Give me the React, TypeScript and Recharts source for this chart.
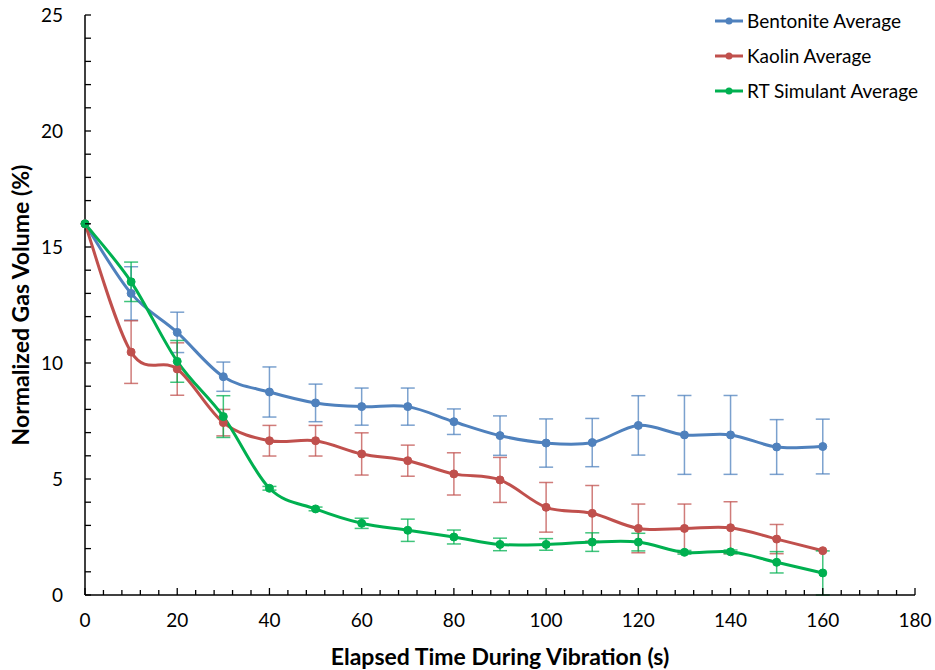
import React from 'react';
import { LineChart, Line, XAxis, YAxis, ErrorBar, Label } from 'recharts';

const times = [0, 10, 20, 30, 40, 50, 60, 70, 80, 90, 100, 110, 120, 130, 140, 150, 160];

const bentonite = [16, 13.0, 11.32, 9.41, 8.75, 8.28, 8.12, 8.12, 7.47, 6.87, 6.55, 6.57, 7.31, 6.9, 6.9, 6.38, 6.4];
const bentoniteErr = [0, 1.15, 0.87, 0.63, 1.08, 0.81, 0.8, 0.8, 0.55, 0.85, 1.04, 1.04, 1.28, 1.7, 1.7, 1.18, 1.18];

const kaolin = [16, 10.47, 9.74, 7.43, 6.65, 6.65, 6.08, 5.79, 5.22, 4.96, 3.78, 3.52, 2.87, 2.87, 2.9, 2.41, 1.91];
const kaolinErr = [0, 1.35, 1.13, 0.57, 0.66, 0.66, 0.91, 0.67, 0.91, 0.97, 1.07, 1.2, 1.05, 1.05, 1.12, 0.63, 0];

const simulant = [16, 13.5, 10.07, 7.69, 4.6, 3.71, 3.09, 2.79, 2.5, 2.18, 2.18, 2.28, 2.28, 1.84, 1.86, 1.41, 0.95];
const simulantErr = [0, 0.85, 0.9, 0.9, 0.08, 0.08, 0.22, 0.48, 0.3, 0.27, 0.25, 0.4, 0.38, 0.08, 0.08, 0.46, 0.95];

const xMajor = [0, 20, 40, 60, 80, 100, 120, 140, 160, 180];
const yMajor = [0, 5, 10, 15, 20, 25];

const seriesNames = ['Bentonite Average', 'Kaolin Average', 'RT Simulant Average'];
const COLORS = ['#4F81BD', '#C0504D', '#00B050'];

const FONT = 'Lato, "Open Sans", sans-serif';

// minor ticks: 5 per major interval, like the Excel axis
const xTicks = Array.from({ length: 46 }, (_, i) => i * 4);
const yTicks = Array.from({ length: 26 }, (_, i) => i);

const data = times.map((t, i) => ({
  t,
  b: bentonite[i],
  bErr: bentoniteErr[i],
  k: kaolin[i],
  kErr: kaolinErr[i],
  r: simulant[i],
  rErr: simulantErr[i],
}));

// Excel style smoothed line (Catmull-Rom through every point)
const excelCurve = (context: any) => {
  let pts: number[][] = [];
  return {
    areaStart() {},
    areaEnd() {},
    lineStart() {
      pts = [];
    },
    point(x: number, y: number) {
      pts.push([+x, +y]);
    },
    lineEnd() {
      if (!pts.length) return;
      context.moveTo(pts[0][0], pts[0][1]);
      for (let i = 0; i < pts.length - 1; i++) {
        const p0 = pts[Math.max(i - 1, 0)];
        const p1 = pts[i];
        const p2 = pts[i + 1];
        const p3 = pts[Math.min(i + 2, pts.length - 1)];
        context.bezierCurveTo(
          p1[0] + (p2[0] - p0[0]) / 6,
          p1[1] + (p2[1] - p0[1]) / 6,
          p2[0] - (p3[0] - p1[0]) / 6,
          p2[1] - (p3[1] - p1[1]) / 6,
          p2[0],
          p2[1]
        );
      }
    },
  };
};

const XTick = (props: any) => {
  const { x, y, payload } = props;
  const major = xMajor.includes(payload.value);
  return (
    <g>
      <line x1={x} x2={x} y1={y} y2={y - (major ? 7 : 5)} stroke="#000" strokeWidth={1.3} />
      {major && (
        <text x={x} y={y + 32} textAnchor="middle" fontSize={19} fontFamily={FONT} fill="#000">
          {payload.value}
        </text>
      )}
    </g>
  );
};

const YTick = (props: any) => {
  const { x, y, payload } = props;
  const major = yMajor.includes(payload.value);
  return (
    <g>
      <line x1={x} x2={x + 6} y1={y} y2={y} stroke="#000" strokeWidth={1.3} />
      {major && (
        <text x={x - 22} y={y + 7} textAnchor="end" fontSize={19} fontFamily={FONT} fill="#000">
          {payload.value}
        </text>
      )}
    </g>
  );
};

const LegendBox = () => (
  <div style={{ position: 'absolute', top: 3, left: 715, fontFamily: FONT, fontSize: 19, color: '#000' }}>
    {seriesNames.map((name, i) => (
      <div key={name} style={{ display: 'flex', alignItems: 'center', height: 35, whiteSpace: 'nowrap' }}>
        <svg width={31} height={10} style={{ marginRight: 1 }}>
          <line x1={0} x2={28} y1={5} y2={5} stroke={COLORS[i]} strokeWidth={3} />
          <circle cx={14} cy={5} r={3.5} fill={COLORS[i]} />
        </svg>
        <span>{name}</span>
      </div>
    ))}
  </div>
);

const keys = [
  ['b', 'bErr'],
  ['k', 'kErr'],
  ['r', 'rErr'],
];

export default function App() {
  return (
    <div style={{ position: 'absolute', left: 0, top: 0, width: 935, height: 670, background: '#fff' }}>
      <LineChart width={935} height={670} data={data} margin={{ top: 15, right: 20, left: 0, bottom: 0 }}>
        <XAxis
          dataKey="t"
          type="number"
          domain={[0, 180]}
          ticks={xTicks}
          interval={0}
          tick={<XTick />}
          tickLine={false}
          tickSize={0}
          tickMargin={0}
          height={75}
          axisLine={{ stroke: '#000', strokeWidth: 1.5 }}
        >
          <Label
            value="Elapsed Time During Vibration (s)"
            position="insideBottom"
            offset={5}
            style={{ fontFamily: FONT, fontSize: 23, fontWeight: 700, fill: '#000' }}
          />
        </XAxis>
        <YAxis
          type="number"
          domain={[0, 25]}
          ticks={yTicks}
          interval={0}
          tick={<YTick />}
          tickLine={false}
          tickSize={0}
          tickMargin={0}
          width={85}
          axisLine={{ stroke: '#000', strokeWidth: 1.5 }}
        >
          <Label
            value="Normalized Gas Volume (%)"
            angle={-90}
            position="insideLeft"
            offset={21}
            style={{ fontFamily: FONT, fontSize: 23, fontWeight: 700, fill: '#000', textAnchor: 'middle' }}
          />
        </YAxis>
        {keys.map(([k, e], i) => (
          <Line
            key={k}
            dataKey={k}
            name={seriesNames[i]}
            type={excelCurve as any}
            stroke={COLORS[i]}
            strokeWidth={3}
            dot={{ r: 4, fill: COLORS[i], stroke: COLORS[i], strokeWidth: 1 }}
            activeDot={false}
            isAnimationActive={false}
          >
            <ErrorBar dataKey={e} width={7} stroke={COLORS[i]} strokeWidth={1.5} strokeOpacity={0.75} direction="y" />
          </Line>
        ))}
      </LineChart>
      <LegendBox />
    </div>
  );
}
